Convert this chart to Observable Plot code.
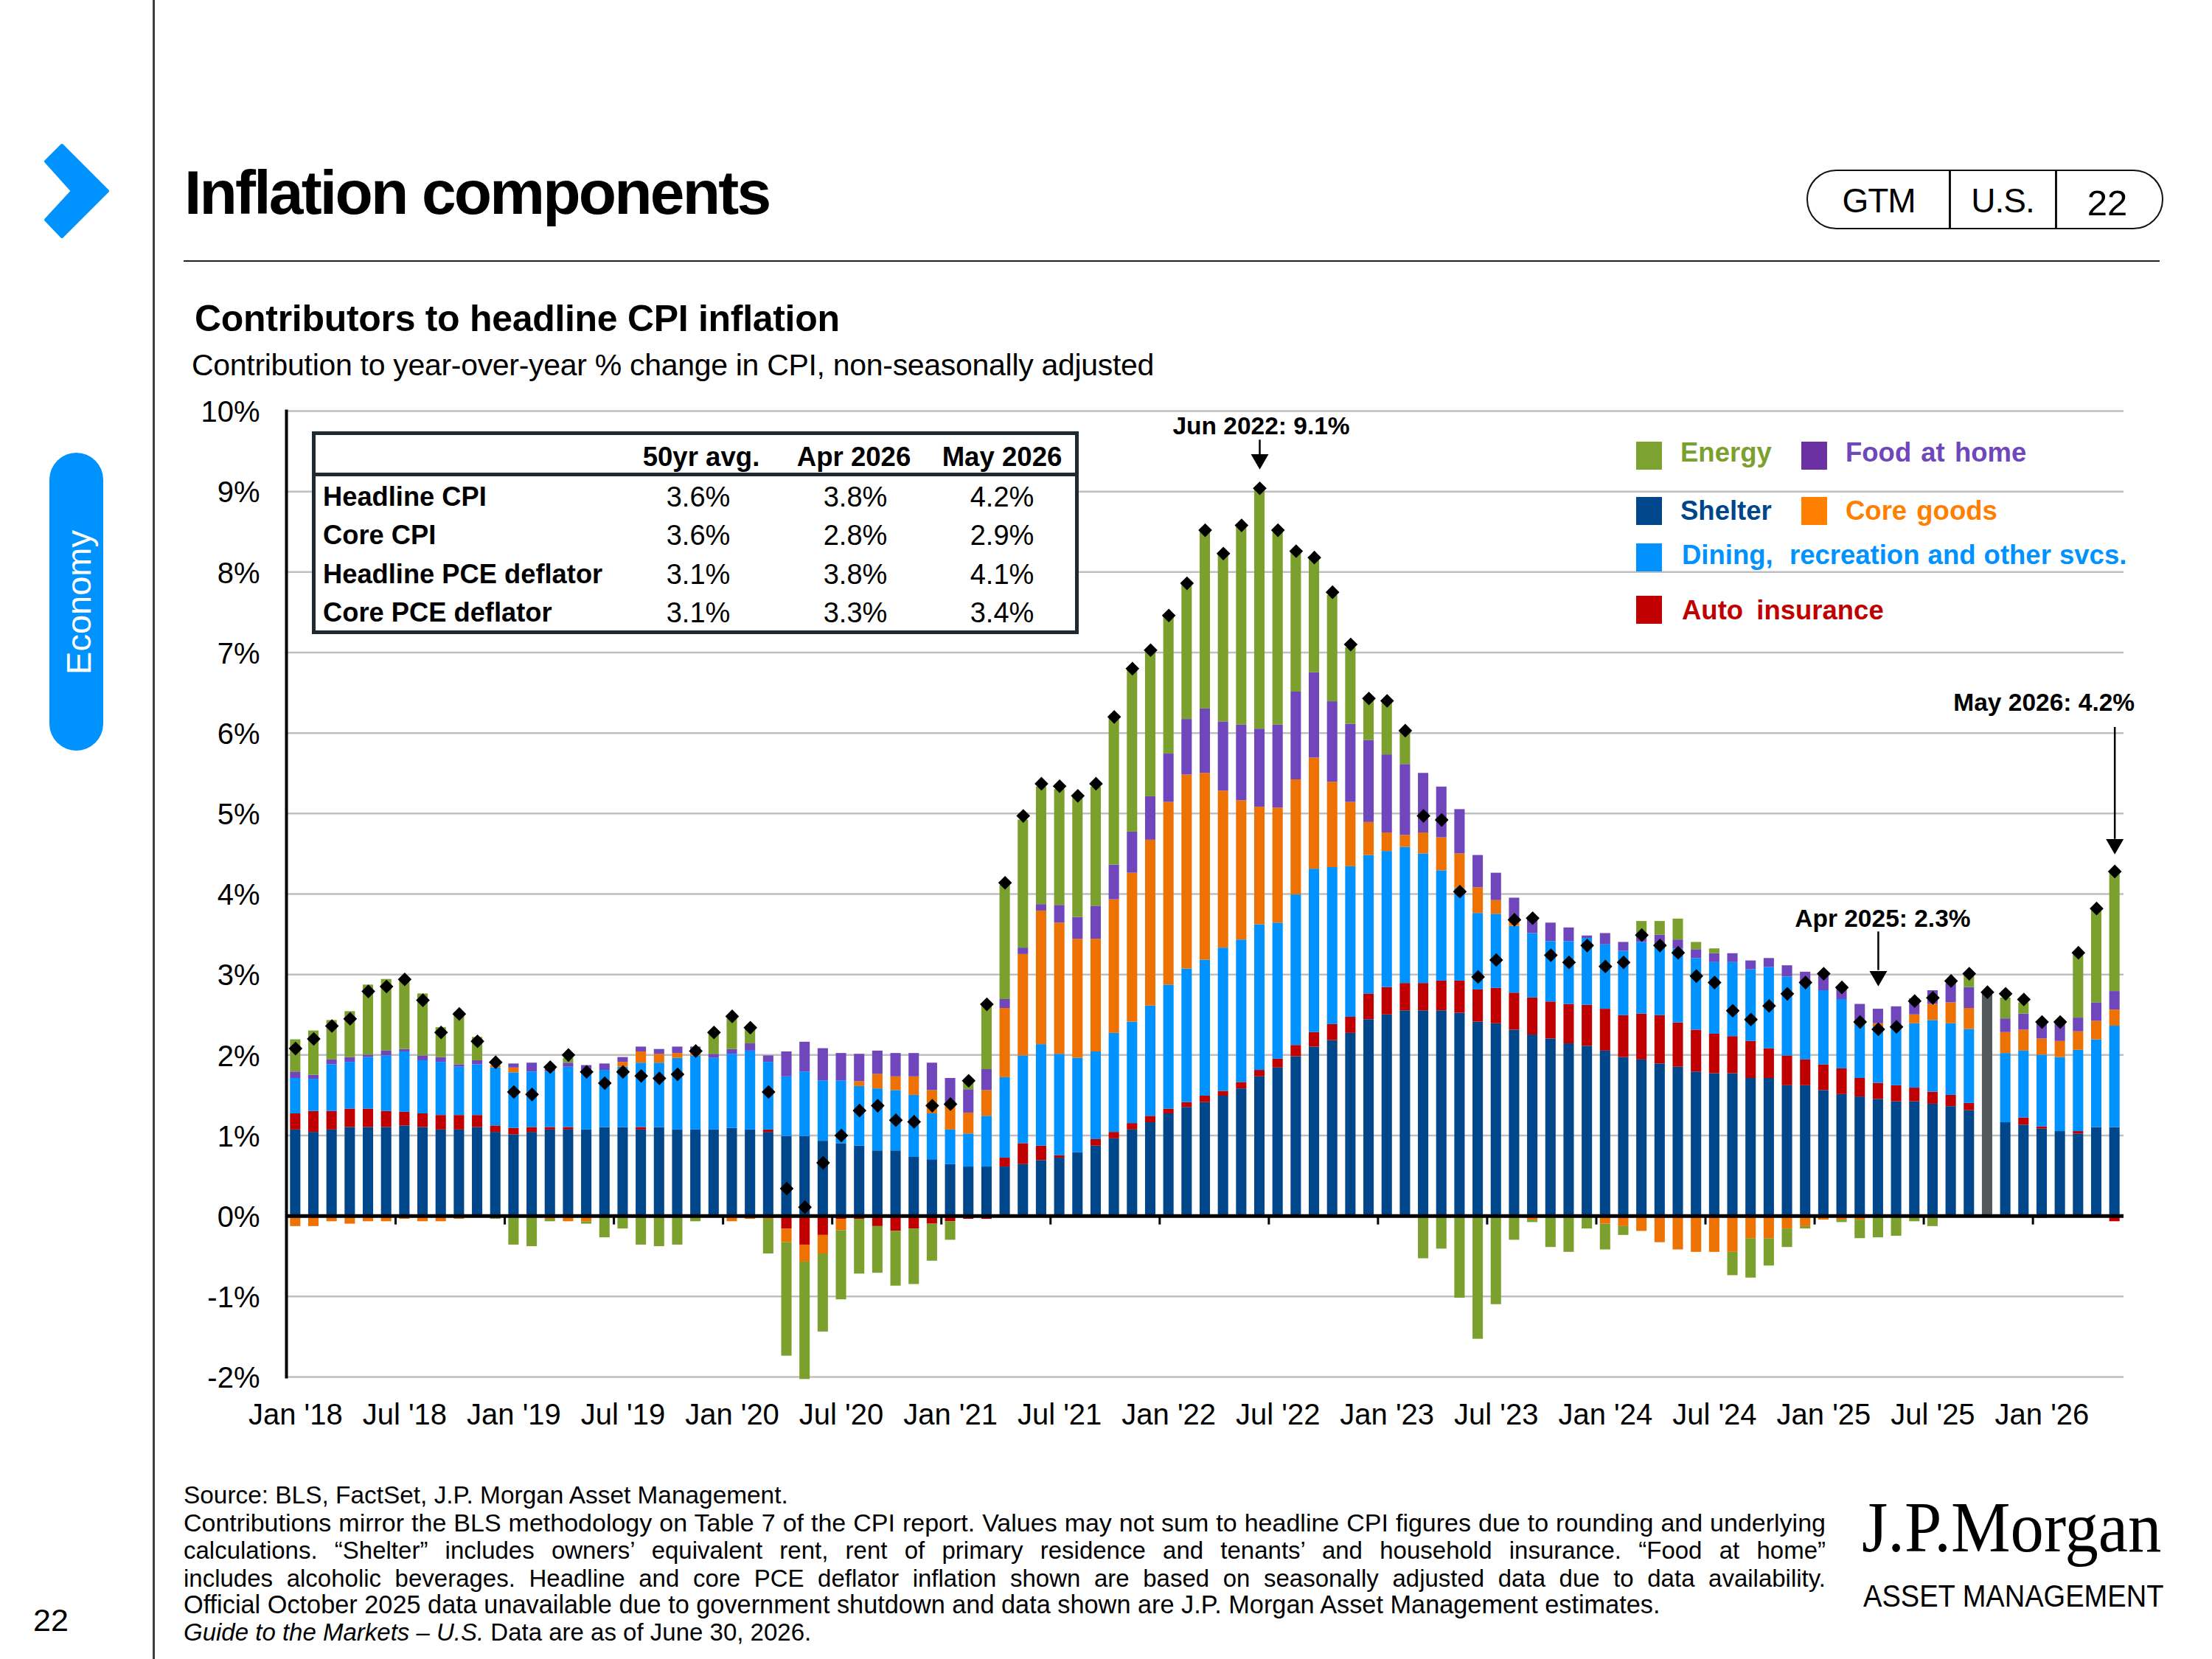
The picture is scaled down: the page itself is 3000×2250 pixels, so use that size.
<!DOCTYPE html>
<html>
<head>
<meta charset="utf-8">
<script src="https://cdn.jsdelivr.net/npm/d3@7"></script>
<script src="https://cdn.jsdelivr.net/npm/@observablehq/plot@0.6"></script>
<style>
html,body{margin:0;padding:0;background:#fff;}
#page{position:relative;width:3000px;height:2250px;overflow:hidden;font-family:"Liberation Sans",Arial,sans-serif;color:#000;}
#page .t{position:absolute;white-space:nowrap;line-height:1;}
#chart{position:absolute;left:0;top:500px;}
svg{overflow:visible;}
</style>
</head>
<body>
<div id="page"><div id="chart"></div></div>
<script>
const monthNames = ["Jan","Feb","Mar","Apr","May","Jun","Jul","Aug","Sep","Oct","Nov","Dec"];
const years = ["18","19","20","21","22","23","24","25","26"];
const months = years.flatMap(y => monthNames.map(m => `${m} '${y}`)).slice(0, 101);
const xTickLabels = ["Jan '18","Jul '18","Jan '19","Jul '19","Jan '20","Jul '20","Jan '21","Jul '21","Jan '22","Jul '22","Jan '23","Jul '23","Jan '24","Jul '24","Jan '25","Jul '25","Jan '26"];
const yTicks = [-2,-1,0,1,2,3,4,5,6,7,8,9,10];

const shelter = [1.07,1.04,1.07,1.10,1.10,1.10,1.12,1.10,1.07,1.07,1.10,1.04,
1.01,1.04,1.07,1.07,1.07,1.10,1.10,1.07,1.10,1.07,1.07,1.07,
1.09,1.07,1.04,.99,.99,.93,.90,.87,.81,.81,.73,.70,
.64,.61,.61,.61,.64,.69,.72,.79,.87,.96,1.07,1.16,
1.27,1.35,1.41,1.49,1.58,1.73,1.84,1.98,2.10,2.18,2.27,2.44,
2.50,2.55,2.55,2.55,2.52,2.41,2.39,2.31,2.25,2.20,2.14,2.11,
2.05,1.97,1.94,1.89,1.85,1.79,1.77,1.77,1.71,1.71,1.62,1.62,
1.56,1.51,1.48,1.45,1.42,1.42,1.39,1.36,1.31,0,1.16,1.13,
1.08,1.05,1.02,1.10,1.10];
const autoInsurance = [.20,.26,.23,.23,.23,.20,.17,.17,.18,.18,.15,.08,
.08,.06,.03,.03,0,0,0,.03,0,0,0,0,
0,0,.03,-.16,-.36,-.24,-.04,-.04,-.13,-.19,-.16,-.10,
-.07,-.04,-.04,.11,.26,.18,.03,0,.08,.08,.08,.08,
.06,.06,.08,.06,.08,.08,.11,.14,.18,.20,.20,.32,
.34,.34,.34,.37,.40,.40,.44,.46,.46,.46,.49,.51,
.52,.52,.57,.60,.55,.52,.49,.46,.46,.37,.37,.32,
.32,.32,.23,.20,.20,.17,.15,.14,.09,0,0,.09,
.03,0,.03,0,-.07];
const dining = [.44,.40,.58,.58,.64,.69,.75,.66,.66,.60,.63,.72,
.69,.69,.69,.75,.69,.71,.75,.80,.80,.89,.92,.89,
.92,.98,.84,.74,.80,.75,.78,.74,.77,.75,.77,.57,
.43,.41,.63,1.0,1.09,1.26,1.26,1.17,1.09,1.23,1.26,1.37,
1.54,1.66,1.69,1.78,1.77,1.81,1.69,1.87,2.03,1.95,1.87,1.72,
1.69,1.69,1.61,1.37,1.15,.95,.92,.83,.80,.75,.78,.83,
.80,.80,.89,.86,.92,.89,.89,.92,.89,1.01,.98,.95,
.92,.86,.69,.70,.73,.80,.89,.89,.92,0,.86,.83,
.89,.92,1.01,1.09,1.26];
const coreGoods = [-.13,-.13,-.07,-.10,-.07,-.07,-.04,-.07,-.07,-.04,0,.03,
.06,0,-.04,-.07,-.07,0,.06,.14,.11,.06,.03,0,
-.07,-.04,-.04,-.17,-.21,-.23,-.14,.06,.18,.17,.23,.29,
.32,.26,.32,.86,1.26,1.66,1.63,1.48,1.40,1.66,1.85,2.06,
2.27,2.41,2.32,1.95,1.73,1.46,1.43,1.43,1.38,1.06,.80,.41,
.23,.15,.26,.41,.43,.32,.17,.06,-.05,0,0,0,
-.10,-.13,-.19,-.33,-.42,-.45,-.45,-.45,-.28,-.28,-.16,-.13,
-.05,-.05,-.05,.04,0,.11,.20,.26,.26,0,.26,.26,
.20,.20,.23,.23,.20];
const foodAtHome = [.08,.05,.06,.06,.03,.06,.03,.06,.06,.03,.05,0,
.05,.11,.03,.05,.11,.08,.06,.06,.06,.08,.08,.05,
.06,.09,.08,.31,.37,.40,.34,.34,.29,.29,.29,.34,
.32,.29,.26,.11,.08,.08,.22,.27,.41,.43,.51,.54,
.60,.69,.80,.86,.94,.97,1.03,1.09,1.06,1.00,.97,1.02,
.97,.88,.74,.63,.55,.40,.34,.29,.18,.23,.17,.03,
.14,.11,.07,.14,.11,.11,.11,.11,.11,.11,.14,.14,
.21,.16,.23,.18,.25,.20,.17,.24,.26,0,.17,.20,
.20,.23,.17,.23,.23];
const energy = [.40,.55,.49,.57,.87,.89,.87,.77,.37,.65,.29,-.04,
-.36,-.38,-.03,.06,-.03,-.27,-.16,-.36,-.38,-.36,-.07,.26,
.38,.19,-.43,-1.41,-1.46,-.97,-.86,-.68,-.58,-.68,-.69,-.46,
-.23,.12,.80,1.42,1.59,1.46,1.44,1.49,1.48,1.82,2.02,1.81,
1.71,1.69,2.21,2.08,2.46,2.97,2.41,1.73,1.43,1.32,.95,.51,
.65,.39,-.53,-.41,-1.02,-1.53,-1.10,-.30,-.03,-.39,-.45,-.16,
-.32,-.11,.19,.17,.26,.09,.06,-.29,-.49,-.34,-.23,-.03,
.01,-.03,-.23,-.27,-.25,-.07,-.13,0,.16,0,.26,.14,
-.03,0,.79,1.15,1.47];
const headline = [2.08,2.20,2.36,2.45,2.79,2.85,2.94,2.68,2.28,2.51,2.17,1.91,
1.54,1.51,1.85,2.0,1.79,1.65,1.79,1.74,1.71,1.76,2.05,2.28,
2.48,2.34,1.54,.34,.11,.66,1.0,1.31,1.37,1.19,1.17,1.37,
1.39,1.68,2.63,4.14,4.97,5.37,5.34,5.22,5.37,6.2,6.8,7.03,
7.46,7.86,8.52,8.23,8.58,9.04,8.52,8.26,8.18,7.75,7.10,6.43,
6.40,6.03,4.97,4.92,4.03,2.97,3.18,3.68,3.70,3.24,3.15,3.36,
3.10,3.15,3.49,3.36,3.27,2.98,2.90,2.55,2.44,2.61,2.76,2.90,
3.01,2.84,2.41,2.32,2.35,2.67,2.71,2.92,3.01,2.78,2.76,2.69,
2.41,2.41,3.27,3.82,4.28];
const estimateMonth = ["Oct '25"];
const estimateValue = [2.78];

const seriesNames = ["Shelter","Auto insurance","Dining","Core goods","Food at home","Energy","Estimate"];
const seriesColors = ["#00468b","#c00000","#0092ff","#ed7203","#6f46bb","#7ba02e","#54595c"];
const seriesValues = [shelter, autoInsurance, dining, coreGoods, foodAtHome, energy];

const tableColumns = ["50yr avg.","Apr 2026","May 2026"];
const tableLabels = ["Headline CPI","Core CPI","Headline PCE deflator","Core PCE deflator"];
const tableValues = [["3.6%","3.8%","4.2%"],["3.6%","2.8%","2.9%"],["3.1%","3.8%","4.1%"],["3.1%","3.3%","3.4%"]];

const callouts = [
  {month:"Jun '22", label:"Jun 2022: 9.1%", textY:9.71, stemTop:9.64, stemEnd:9.45, head:9.40, anchor:"middle", shift:2},
  {month:"Apr '25", label:"Apr 2025: 2.3%", textY:3.59, stemTop:3.53, stemEnd:3.05, head:2.98, anchor:"middle", shift:6},
  {month:"May '26", label:"May 2026: 4.2%", textY:6.28, stemTop:6.07, stemEnd:4.68, head:4.62, anchor:"end", shift:27}
];

const rows = seriesValues.flatMap((vals, s) => vals.map((v, i) => ({month: months[i], value: v, series: seriesNames[s]})))
  .concat(estimateMonth.map((m, i) => ({month: m, value: estimateValue[i], series: "Estimate"})))
  .filter(d => d.value !== 0);
const headlineRows = headline.map((v, i) => ({month: months[i], value: v}));
// axis ticks sit on the month boundary just before each labelled month
const tickMonths = xTickLabels.slice(1);
const font = '"Liberation Sans", Arial, sans-serif';

const plot = Plot.plot({
  width: 3000,
  height: 1480,
  marginLeft: 388,
  marginRight: 120,
  marginTop: 57,
  marginBottom: 113,
  style: {fontFamily: font, fontSize: "40px", background: "transparent", color: "#000"},
  x: {type: "band", domain: months, paddingInner: 0.43, paddingOuter: 0.215, round: false, label: null},
  y: {domain: [-2, 10], label: null},
  color: {domain: seriesNames, range: seriesColors},
  marks: [
    Plot.ruleY(yTicks.filter(d => d !== 0), {stroke: "#bfbfbf", strokeWidth: 2.5}),
    Plot.barY(rows, {x: "month", y: "value", z: "series", fill: "series"}),
    Plot.ruleY([0], {stroke: "#000", strokeWidth: 5}),
    Plot.ruleX(tickMonths, {x: d => d, y1: 0, y2: -0.11, dx: -12.34, stroke: "#000", strokeWidth: 3}),
    Plot.frame({anchor: "left", stroke: "#000", strokeWidth: 4}),
    Plot.axisY({ticks: yTicks, tickFormat: d => `${d}%`, tickSize: 0, tickPadding: 36, dy: 2, fontSize: 40, label: null}),
    Plot.axisX({ticks: xTickLabels, tickSize: 0, tickPadding: 36, fontSize: 40, label: null}),
    Plot.dot(headlineRows, {x: "month", y: "value", symbol: "diamond2", r: 8.4, fill: "#000", stroke: "none"}),
    Plot.ruleX(callouts, {x: "month", y1: "stemTop", y2: "stemEnd", stroke: "#000", strokeWidth: 2.5}),
    Plot.dot(callouts, {x: "month", y: "head", symbol: "triangle", rotate: 180, r: 8.9, fill: "#000", stroke: "none"}),
    callouts.map(d => Plot.text([d], {x: "month", y: "textY", text: "label", textAnchor: d.anchor, lineAnchor: "bottom", dx: d.shift, fontSize: 33.5, fontWeight: 700, fill: "#000"}))
  ]
});
document.getElementById("chart").appendChild(plot);

const page = document.getElementById("page");
function label(text, x, baseline, o = {}) {
  const size = o.size || 40;
  const el = document.createElement("div");
  el.className = "t";
  el.innerHTML = text;
  const asc = o.serif ? 0.8375 : 0.8465;
  el.style.left = x + "px";
  el.style.top = (baseline - asc * size) + "px";
  el.style.fontSize = size + "px";
  if (o.weight) el.style.fontWeight = o.weight;
  if (o.color) el.style.color = o.color;
  if (o.spacing) el.style.letterSpacing = o.spacing + "px";
  if (o.word) el.style.wordSpacing = o.word + "px";
  if (o.serif) el.style.fontFamily = '"Liberation Serif", serif';
  if (o.anchor === "middle") el.style.transform = "translateX(-50%)";
  if (o.anchor === "end") el.style.transform = "translateX(-100%)";
  if (o.width) { el.style.width = o.width + "px"; el.style.whiteSpace = "normal"; el.style.textAlign = "justify"; el.style.textAlignLast = "justify"; }
  if (o.scaleX) { el.style.transformOrigin = "left"; el.style.transform = `scaleX(${o.scaleX})`; }
  page.appendChild(el);
  return el;
}
function box(x, y, w, h, css) {
  const el = document.createElement("div");
  el.style.cssText = `position:absolute;left:${x}px;top:${y}px;width:${w}px;height:${h}px;box-sizing:border-box;${css || ""}`;
  page.appendChild(el);
  return el;
}

// page furniture
box(207, 0, 2.5, 2250, "background:#3a3f44;");
box(249, 353, 2680, 2, "background:#222;");
const chevron = document.createElementNS("http://www.w3.org/2000/svg", "svg");
chevron.setAttribute("width", 200); chevron.setAttribute("height", 400);
chevron.style.cssText = "position:absolute;left:0;top:0;";
chevron.innerHTML = '<polygon points="84,197 146,259 84,321 62,298 98,259 62,219" fill="#0092ff" stroke="#0092ff" stroke-width="4" stroke-linejoin="round"/>';
page.appendChild(chevron);
box(67, 614, 73, 404, "background:#0092ff;border-radius:37px;");
const eco = label("Economy", 106, 0, {size: 47, color: "#fff"});
eco.style.top = "817px"; eco.style.transform = "translate(-50%,-50%) rotate(-90deg)";

label("Inflation components", 250, 290, {size: 84, weight: 700, spacing: -2.8});
box(2450, 230, 484, 81, "border:2.5px solid #111;border-radius:41px;");
box(2643, 230, 2.5, 81, "background:#111;");
box(2787, 230, 2.5, 81, "background:#111;");
label("GTM", 2548, 288, {size: 46, anchor: "middle", spacing: -1});
label("U.S.", 2716, 288, {size: 46, anchor: "middle", spacing: -1});
label("22", 2858, 292, {size: 49, anchor: "middle"});

label("Contributors to headline CPI inflation", 264, 449, {size: 50, weight: 700, spacing: -0.3});
label("Contribution to year-over-year % change in CPI, non-seasonally adjusted", 260, 510, {size: 41, spacing: -0.3});

// summary table
box(423, 585, 1040, 275, "background:#fff;border:5px solid #1f2a30;");
box(423, 641, 1040, 5, "background:#1f2a30;");
const colX = [951, 1158, 1359];
tableColumns.forEach((c, i) => label(c, colX[i], 633, {size: 36.6, weight: 700, anchor: "middle"}));
const rowY = [687, 739, 792, 844];
tableLabels.forEach((r, j) => {
  label(r, 438, rowY[j], {size: 36.3, weight: 700});
  tableValues[j].forEach((v, i) => label(v, [947, 1160, 1359][i], rowY[j], {size: 38, anchor: "middle"}));
});

// legend
const legend = [
  {name: "Energy", sw: "#7ca32f", tc: "#7ba02e", x: 2219, y: 599, lx: 2279, b: 627, word: 0},
  {name: "Food at home", sw: "#6b31a3", tc: "#6f46bb", x: 2443, y: 599, lx: 2503, b: 627, word: 3},
  {name: "Shelter", sw: "#00468b", tc: "#00468b", x: 2219, y: 674, lx: 2279, b: 706, word: 0},
  {name: "Core goods", sw: "#ff8000", tc: "#ff8000", x: 2443, y: 674, lx: 2503, b: 706, word: 3},
  {name: "Dining,&nbsp; recreation and other svcs.", sw: "#0092ff", tc: "#0092ff", x: 2219, y: 737, lx: 2281, b: 766, word: 1},
  {name: "Auto insurance", sw: "#c00000", tc: "#c00000", x: 2219, y: 808, lx: 2281, b: 841, word: 8}
];
legend.forEach(d => {
  box(d.x, d.y, 35, 38, `background:${d.sw};`);
  label(d.name, d.lx, d.b, {size: 36.5, weight: 700, color: d.tc, word: d.word});
});

// footnotes
const footnotes = [
  {text: "Source: BLS, FactSet, J.P. Morgan Asset Management.", y: 2039, size: 33.4},
  {text: "Contributions mirror the BLS methodology on Table 7 of the CPI report. Values may not sum to headline CPI figures due to rounding and underlying", y: 2077, size: 34, width: 2227},
  {text: "calculations. “Shelter” includes owners’ equivalent rent, rent of primary residence and tenants’ and household insurance. “Food at home”", y: 2114, size: 33, width: 2227},
  {text: "includes alcoholic beverages. Headline and core PCE deflator inflation shown are based on seasonally adjusted data due to data availability.", y: 2152, size: 33, width: 2227},
  {text: "Official October 2025 data unavailable due to government shutdown and data shown are J.P. Morgan Asset Management estimates.", y: 2188, size: 34.3},
  {text: "<i>Guide to the Markets – U.S.</i> Data are as of June 30, 2026.", y: 2225, size: 33}
];
footnotes.forEach(f => label(f.text, 249, f.y, {size: f.size, width: f.width}));
label("22", 69, 2212, {size: 43, anchor: "middle"});
label("J.P.Morgan", 2525, 2104, {size: 98, serif: true, scaleX: 0.925});
label("ASSET MANAGEMENT", 2527, 2179, {size: 43, scaleX: 0.885});
</script>
</body>
</html>
